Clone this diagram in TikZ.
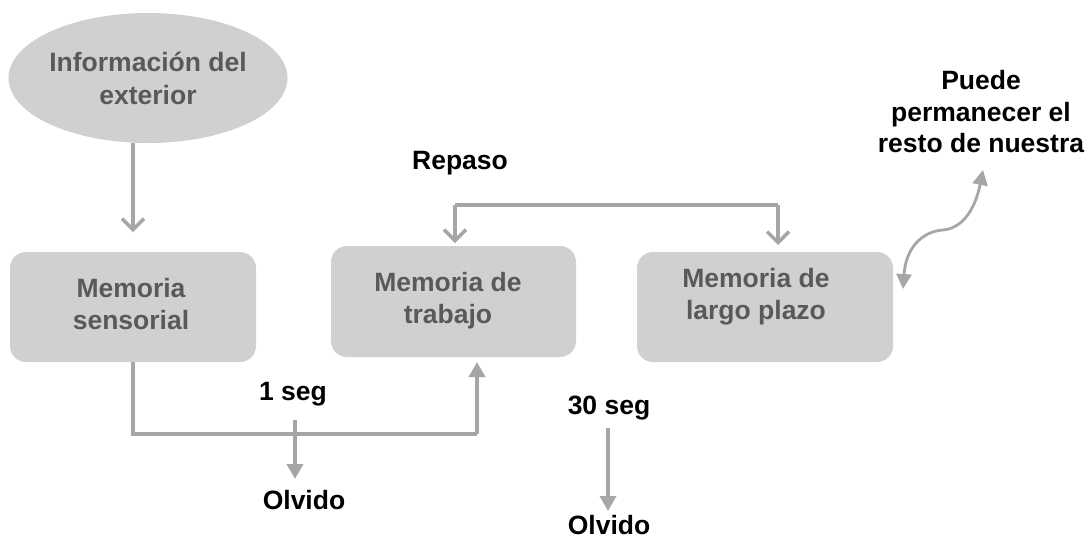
\documentclass[tikz,border=0pt]{standalone}
\usepackage{fontspec}
\setmainfont{Liberation Sans}
\usetikzlibrary{shapes.geometric,arrows.meta}
\definecolor{boxfill}{RGB}{208,208,208}
\definecolor{boxtext}{RGB}{89,89,89}
\definecolor{arrowgray}{RGB}{166,166,166}
\begin{document}
\begin{tikzpicture}[x=1pt,y=-1pt,
  memorybox/.style={rectangle,rounded corners=16pt,fill=boxfill,draw=none,
    minimum width=#1},
  boxlbl/.style={align=center,font=\fontsize{26.5}{32}\selectfont\bfseries,text=boxtext,inner sep=0pt},
  lbl/.style={align=center,font=\fontsize{26.5}{31.5}\selectfont\bfseries,text=black},
  conn/.style={draw=arrowgray,line width=3.5pt},
  openhead/.style={conn,-{Straight Barb[length=11pt,width=22pt,line width=3.5pt]}},
  solidhead/.style={conn,-{Triangle[length=15pt,width=16pt]}},
  bothhead/.style={conn,line width=2.8pt,{Triangle[length=15pt,width=15pt]}-{Triangle[length=15pt,width=15pt]}}
]
\useasboundingbox (0,0) rectangle (1091,539);
% nodes
\node[ellipse,fill=boxfill,minimum width=277pt,minimum height=130pt,align=center,
  font=\fontsize{26.5}{33}\selectfont\bfseries,text=boxtext,inner sep=0pt] (info) at (148,78) {Información del\\exterior};
\node[memorybox=246pt,minimum height=110pt] (sens) at (133,307) {};
\node[memorybox=245pt,minimum height=111pt] (trab) at (453.5,301.5) {};
\node[memorybox=256pt,minimum height=110pt] (largo) at (765,307) {};
\node[boxlbl] (senstext) at (131,304) {Memoria\\sensorial};
\node[boxlbl] (trabtext) at (448,300.5) {Memoria de\\trabajo};
\node[boxlbl] (largotext) at (756,297) {Memoria de\\largo plazo};
\node[lbl] (repaso) at (460,163) {Repaso};
\node[lbl] (puede) at (981,112) {Puede\\permanecer el\\resto de nuestra};
\node[lbl] (seg1) at (293,394) {1 seg};
\node[lbl] (olv1) at (304,500) {Olvido};
\node[lbl] (seg30) at (609,408) {30 seg};
\node[lbl] (olv2) at (609,525) {Olvido};
% coordinates
\coordinate (infoend) at (133,232);
\coordinate (rl) at (455,205);
\coordinate (rr) at (778,205);
\coordinate (bl) at (133,434);
\coordinate (br) at (477,434);
\coordinate (bup) at (477,362);
\coordinate (curvebot) at (903,289);
\coordinate (curvetop) at (983,170);
% connectors
\draw[openhead] (info.south -| infoend) -- (infoend);
\draw[openhead] (rl) -- (455,243);
\draw[conn] (rl) -- (rr);
\draw[openhead] (rr) -- (778,245);
\draw[conn] (sens.south -| bl) -- (bl) -- (br);
\draw[solidhead] (br) -- (bup);
\draw[solidhead] (295,420) -- (295,479);
\draw[solidhead] (608,428) -- (608,511);
\draw[bothhead] (curvebot) .. controls (906,245) and (925,231) .. (943,230) .. controls (965,228) and (976,205) .. (curvetop);
\end{tikzpicture}
\end{document}
